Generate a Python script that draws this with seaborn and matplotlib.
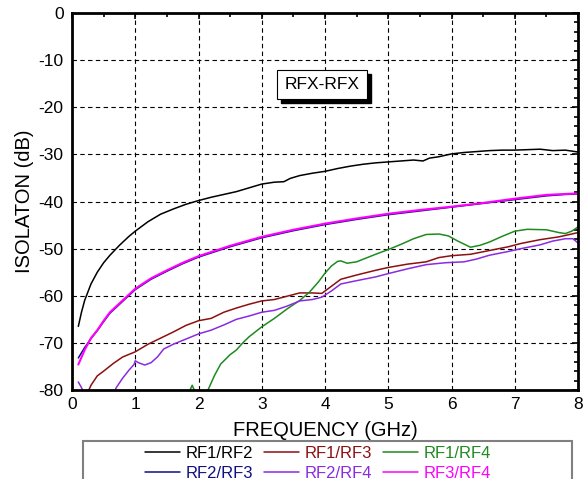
import matplotlib
matplotlib.use("Agg")
import matplotlib.pyplot as plt
from matplotlib.patches import Rectangle
from matplotlib.lines import Line2D
from matplotlib.ticker import MultipleLocator
import pandas as pd
import seaborn as sns

# ---------------- data ----------------
rf12_x = [0.1, 0.15, 0.2, 0.3, 0.4, 0.5, 0.6, 0.75, 0.9, 1.0, 1.2, 1.4, 1.6, 1.8, 2.0,
          2.2, 2.4, 2.6, 2.8, 3.0, 3.2, 3.35, 3.45, 3.6, 3.8, 4.0, 4.2, 4.4, 4.6, 4.8,
          5.0, 5.2, 5.4, 5.55, 5.65, 5.8, 6.0, 6.2, 6.4, 6.6, 6.8, 7.0, 7.2, 7.4, 7.6,
          7.8, 7.9, 8.0]
rf12_y = [-66.5, -63.5, -61.0, -57.5, -55.0, -53.0, -51.4, -49.3, -47.4, -46.3, -44.3,
          -42.7, -41.6, -40.6, -39.8, -39.1, -38.5, -37.9, -37.1, -36.3, -35.9, -35.8,
          -35.1, -34.5, -34.0, -33.6, -33.0, -32.5, -32.1, -31.8, -31.6, -31.4, -31.2,
          -31.4, -30.8, -30.5, -29.9, -29.6, -29.4, -29.2, -29.1, -29.1, -29.0, -28.9,
          -29.2, -29.1, -29.3, -29.5]

rf13_x = [0.25, 0.3, 0.4, 0.5, 0.65, 0.8, 1.0, 1.2, 1.4, 1.6, 1.8, 2.0, 2.2, 2.4, 2.6,
          2.8, 3.0, 3.2, 3.4, 3.6, 3.8, 3.95, 4.1, 4.25, 4.5, 4.8, 5.0, 5.3, 5.6, 5.8,
          6.0, 6.3, 6.6, 6.9, 7.1, 7.4, 7.7, 7.9, 8.0]
rf13_y = [-80.5, -79.0, -77.0, -76.0, -74.4, -73.0, -71.9, -70.3, -69.0, -67.7, -66.3,
          -65.3, -64.8, -63.5, -62.6, -61.8, -61.1, -60.8, -60.1, -59.4, -59.4, -59.5,
          -58.0, -56.5, -55.6, -54.6, -54.0, -53.3, -52.8, -51.9, -51.5, -51.2, -50.4,
          -49.6, -48.9, -48.1, -47.5, -46.9, -46.6]

rf14_x = [1.8, 1.85, 1.9, 1.95, 2.0, 2.1, 2.15, 2.25, 2.35, 2.5, 2.6, 2.7, 2.8, 3.0,
          3.2, 3.4, 3.6, 3.75, 3.9, 4.0, 4.1, 4.2, 4.25, 4.35, 4.5, 4.8, 5.0, 5.2, 5.4,
          5.6, 5.8, 5.95, 6.1, 6.3, 6.45, 6.6, 6.8, 7.0, 7.2, 7.5, 7.7, 7.8, 7.9, 8.0]
rf14_y = [-82.0, -80.5, -79.0, -80.5, -82.0, -81.0, -80.0, -77.0, -74.5, -72.5, -71.5,
          -70.0, -68.7, -66.6, -64.8, -62.8, -61.0, -59.3, -57.0, -55.2, -53.7, -52.7,
          -52.6, -53.1, -52.8, -51.2, -50.2, -49.1, -47.9, -47.0, -46.9, -47.3, -48.4,
          -49.7, -49.3, -48.6, -47.4, -46.3, -45.9, -46.0, -46.6, -46.8, -46.3, -45.4]

rf23_x = [0.1, 0.2, 0.3, 0.4, 0.5, 0.6, 0.8, 1.0, 1.25, 1.5, 1.75, 2.0, 2.5, 3.0, 3.5,
          4.0, 4.5, 5.0, 5.5, 6.0, 6.5, 7.0, 7.5, 7.8, 8.0]
rf23_y = [-73.2, -71.0, -69.1, -67.4, -65.5, -63.7, -61.2, -58.7, -56.5, -54.8, -53.2,
          -51.8, -49.6, -47.7, -46.2, -44.9, -43.8, -42.8, -42.0, -41.2, -40.4, -39.6,
          -38.8, -38.5, -38.4]

rf24_x = [0.1, 0.15, 0.2, 0.3, 0.5, 0.65, 0.7, 0.8, 0.9, 0.98, 1.0, 1.05, 1.15, 1.25,
          1.35, 1.45, 1.6, 1.8, 2.0, 2.2, 2.4, 2.6, 2.8, 3.0, 3.2, 3.4, 3.6, 3.8, 3.95,
          4.1, 4.25, 4.5, 4.8, 5.0, 5.3, 5.6, 5.9, 6.2, 6.4, 6.6, 6.9, 7.1, 7.4, 7.6,
          7.8, 7.92, 8.0]
rf24_y = [-78.3, -79.5, -81.0, -84.0, -85.0, -81.0, -79.5, -77.5, -75.8, -74.6, -73.8,
          -74.2, -74.7, -74.2, -73.0, -71.3, -70.3, -69.2, -68.1, -67.3, -66.2, -65.0,
          -64.3, -63.5, -63.1, -62.2, -61.1, -60.8, -60.3, -59.0, -57.5, -56.8, -56.0,
          -55.3, -54.3, -53.4, -53.0, -52.8, -52.2, -51.4, -50.6, -50.0, -49.2, -48.4,
          -47.9, -47.9, -48.8]

rf34_x = [0.1, 0.2, 0.3, 0.4, 0.5, 0.6, 0.8, 1.0, 1.25, 1.5, 1.75, 2.0, 2.5, 3.0, 3.5,
          4.0, 4.5, 5.0, 5.5, 6.0, 6.5, 7.0, 7.5, 7.8, 8.0]
rf34_y = [-74.6, -71.5, -69.0, -67.3, -65.3, -63.5, -61.0, -58.5, -56.3, -54.6, -53.0,
          -51.6, -49.4, -47.5, -46.0, -44.7, -43.6, -42.6, -41.8, -41.1, -40.3, -39.4,
          -38.6, -38.4, -38.3]

series_names = ["RF1/RF2", "RF1/RF3", "RF1/RF4", "RF2/RF3", "RF2/RF4", "RF3/RF4"]
series_x = [rf12_x, rf13_x, rf14_x, rf23_x, rf24_x, rf34_x]
series_y = [rf12_y, rf13_y, rf14_y, rf23_y, rf24_y, rf34_y]
series_colors = ["#000000", "#8b1010", "#1f8a1f", "#101080", "#8a2be2", "#ff00ff"]

x_ticks = [0, 1, 2, 3, 4, 5, 6, 7, 8]
y_ticks = [-80, -70, -60, -50, -40, -30, -20, -10, 0]

# ---------------- build long table ----------------
frames = []
for name, xs, ys in zip(series_names, series_x, series_y):
    frames.append(pd.DataFrame({"freq": xs, "iso": ys, "series": name}))
df = pd.concat(frames, ignore_index=True)
palette = dict(zip(series_names, series_colors))

sns.set_theme(style="white")
plt.rcParams["font.family"] = ["Liberation Sans", "DejaVu Sans"]

fig = plt.figure(figsize=(5.87, 4.79), dpi=100)
ax = fig.add_axes([72 / 587, 1 - 390 / 479, (578 - 72) / 587, (390 - 13) / 479], zorder=2)
ax.patch.set_alpha(0)

ax.set_axisbelow(True)
ax.grid(True, which="major", color="black", linestyle=(0, (4, 3)), linewidth=0.8)

sns.lineplot(data=df, x="freq", y="iso", hue="series", hue_order=series_names,
             palette=palette, legend=False, sort=False, estimator=None,
             linewidth=1.1, ax=ax)
for line, name in zip(ax.get_lines(), series_names):
    if name == "RF3/RF4":
        line.set_linewidth(1.5)

ax.set_xlim(0, 8)
ax.set_ylim(-80, 0)
ax.set_xticks(x_ticks)
ax.set_yticks(y_ticks)
ax.set_xticklabels([str(v) for v in x_ticks])
ax.set_yticklabels([str(v) for v in y_ticks])
ax.xaxis.set_minor_locator(MultipleLocator(0.5))
ax.yaxis.set_minor_locator(MultipleLocator(2))
ax.tick_params(axis="both", which="both", direction="in", top=True, right=True,
               color="black", labelsize=12.5, labelcolor="black")
ax.tick_params(axis="both", which="major", length=4, width=1.2)
ax.tick_params(axis="both", which="minor", length=3, width=1.2)
ax.tick_params(axis="x", which="major", pad=5)
ax.tick_params(axis="y", which="major", pad=6)
for sp in ax.spines.values():
    sp.set_color("black")
    sp.set_linewidth(2.0)

ax.set_xlabel("FREQUENCY (GHz)", fontsize=14.5, color="black", labelpad=6.5)
ax.set_ylabel("ISOLATON (dB)", fontsize=14.5, color="black", labelpad=3)

# title box with a drop shadow
title = ax.text(3.95, -15.2, "RFX-RFX", fontsize=12.5, color="black", ha="center",
                va="center", zorder=6,
                bbox=dict(boxstyle="square,pad=0.42", fc="white", ec="black", lw=0.8))
fig.canvas.draw()
bb = title.get_bbox_patch().get_window_extent()
inv = fig.transFigure.inverted()
(x0, y0), (x1, y1) = inv.transform([(bb.x0 + 4, bb.y0 - 4), (bb.x1 + 4, bb.y1 - 4)])
bg = fig.add_axes([0, 0, 1, 1], zorder=0)
bg.axis("off")
bg.add_patch(Rectangle((x0, y0), x1 - x0, y1 - y0, transform=fig.transFigure,
                       fc="black", ec="black"))

# legend
handles = [Line2D([], [], color=c, lw=1.1) for c in series_colors]
order = [0, 3, 1, 4, 2, 5]
leg = fig.legend([handles[i] for i in order], [series_names[i] for i in order],
                 ncol=3, loc="center", bbox_to_anchor=(318 / 587, 1 - 463 / 479),
                 frameon=False, fontsize=12, handlelength=2.1, handletextpad=0.3,
                 columnspacing=0.7, labelspacing=0.3)
for txt, i in zip(leg.get_texts(), order):
    txt.set_color(series_colors[i])
fig.patches.append(Rectangle((83 / 587, -0.05), (572 - 83) / 587, 0.05 + (479 - 441) / 479,
                             transform=fig.transFigure, fill=False, ec="#808080", lw=1.5))

fig.savefig("out.png", dpi=100)
